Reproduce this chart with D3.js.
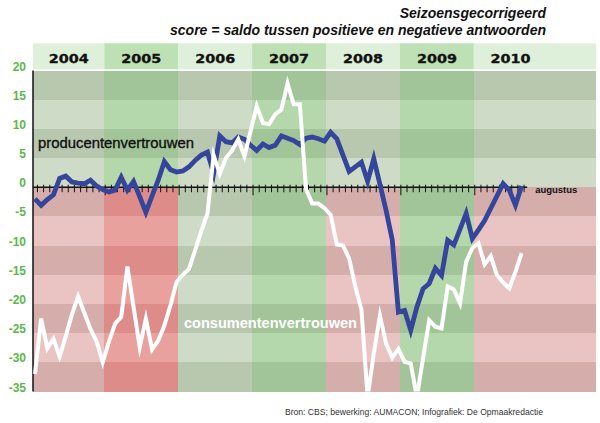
<!DOCTYPE html>
<html><head><meta charset="utf-8">
<script src="https://cdn.jsdelivr.net/npm/d3@7"></script>
<style>body{margin:0;background:#fff}svg{display:block}</style>
</head><body>
<script>
// ---------- data ----------
const years = ["2004","2005","2006","2007","2008","2009","2010"];
const negativeTone = ["red","red","green","green","red","green","red"];
const yTicks = [20,15,10,5,0,-5,-10,-15,-20,-25,-30,-35];
// monthly, Jan 2004 .. Aug 2010
const producenten = [
  -2.0,-3.1,-2.1,-1.3, 1.5, 1.9, 0.9, 0.7, 0.6, 1.2, 0.2,-0.4,
  -0.8,-0.5, 1.7,-0.5, 1.0,-1.6,-4.3,-1.5, 1.2, 4.4, 3.0, 2.6,
   2.8, 3.5, 4.6, 5.5, 6.0, 2.4, 8.8, 7.8, 7.6, 8.6, 8.2, 7.2,
   6.3, 7.4, 6.8, 7.2, 8.8, 8.4, 8.0, 7.3, 8.4, 8.6, 8.3, 7.9,
   9.4, 8.3, 5.5, 2.7, 3.5, 4.3, 1.0, 4.9, 0.5,-4.0,-9.0,-21.4,
 -21.1,-24.5,-20.5,-17.4,-16.5,-13.9,-15.1,-9.1,-9.9,-7.2,-4.5,-8.8,
  -7.3,-5.7,-3.6,-1.5, 0.6,-0.5,-3.1, 0.2
];
const consumenten = [
 -32.0,-22.5,-27.6,-26.0,-29.0,-25.5,-21.8,-18.7,-21.5,-24.3,-26.4,-30.0,
 -26.5,-23.4,-22.2,-13.6,-20.5,-27.4,-22.5,-27.8,-26.3,-23.7,-20.2,-16.2,
 -15.0,-14.0,-10.8,-7.5,-4.5, 5.5, 2.3, 5.0, 6.3, 8.2, 5.3, 9.6,
  13.9, 11.0, 10.8, 12.5, 13.3, 17.8, 14.2, 14.2,-0.3,-2.8,-2.8,-3.6,
  -4.7,-9.8,-10.0,-12.2,-17.0,-21.0,-36.0,-28.5,-22.0,-26.8,-29.2,-27.7,
 -29.9,-30.2,-36.0,-29.3,-22.8,-23.9,-24.2,-17.0,-17.5,-19.9,-12.8,-10.4,
  -9.6,-13.2,-11.8,-15.1,-16.3,-17.3,-14.5,-11.3
];
const labelProducenten = "producentenvertrouwen";
const labelConsumenten = "consumentenvertrouwen";
const lastMonthLabel = "augustus";
const title1 = "Seizoensgecorrigeerd";
const title2 = "score = saldo tussen positieve en negatieve antwoorden";
const source = "Bron: CBS; bewerking: AUMACON; Infografiek: De Opmaakredactie";

// ---------- layout ----------
const W = 600, H = 423;
const pLeft = 33, pRight = 596, pTop = 70.5, pBottom = 391.5;
const headTop = 43.3, headBottom = 69.3;
const FONT = "'Liberation Sans', Arial, Helvetica, sans-serif";

const colors = {
  head: ["#def0d9", "#bde0b5"],
  green: [{dark:"#b8c8af", light:"#cedcc7"}, {dark:"#a1c598", light:"#b4d7ab"}],
  red:   [{dark:"#d5adab", light:"#e9c4c3"}, {dark:"#dd8c8a", light:"#e9a19e"}]
};

const svg = d3.select("body").append("svg").attr("width", W).attr("height", H);

const x = d3.scaleLinear().domain([0, 79]).range([35, 521.6]);
const y = d3.scaleLinear().domain([-35, 20]).range([pBottom, pTop]);

const yearSpan = k => [
  k === 0 ? pLeft : x(12 * k - 0.75),
  k === years.length - 1 ? pRight : x(12 * (k + 1) - 0.75)
];

// header band
svg.append("g").selectAll("rect").data(years).join("rect")
  .attr("x", (d, k) => yearSpan(k)[0])
  .attr("width", (d, k) => yearSpan(k)[1] - yearSpan(k)[0])
  .attr("y", headTop).attr("height", headBottom - headTop)
  .attr("fill", (d, k) => colors.head[k % 2]);

svg.append("g").selectAll("text").data(years).join("text")
  .attr("x", (d, k) => (yearSpan(k)[0] + (k === years.length - 1 ? yearSpan(k)[0] + 73.5 : yearSpan(k)[1])) / 2)
  .attr("y", 62.5)
  .attr("text-anchor", "middle")
  .attr("font-family", "'DejaVu Sans', sans-serif")
  .attr("font-weight", "bold").attr("font-size", 11.5)
  .attr("textLength", 40).attr("lengthAdjust", "spacingAndGlyphs")
  .attr("stroke", "#111").attr("stroke-width", 0.3)
  .attr("fill", "#111").text(d => d);

// stripes
const bands = d3.range(-35, 20, 5);
const cells = [];
years.forEach((yr, k) => bands.forEach(lo => {
  const tone = lo >= 0 ? "green" : negativeTone[k];
  const shade = (Math.abs(lo / 5) % 2 === 1) ? "dark" : "light";
  cells.push({k, lo, fill: colors[tone][k % 2][shade]});
}));
svg.append("g").selectAll("rect").data(cells).join("rect")
  .attr("x", d => yearSpan(d.k)[0])
  .attr("width", d => yearSpan(d.k)[1] - yearSpan(d.k)[0])
  .attr("y", d => y(d.lo + 5))
  .attr("height", d => y(d.lo) - y(d.lo + 5))
  .attr("fill", d => d.fill)
  .attr("shape-rendering", "crispEdges");

// y labels
svg.append("g").selectAll("text").data(yTicks).join("text")
  .attr("x", 26).attr("y", d => y(d))
  .attr("text-anchor", "end")
  .attr("font-family", FONT).attr("font-weight", "bold").attr("font-size", 12)
  .attr("fill", "#5cb84b").text(d => d);

// left axis
svg.append("line").attr("x1", pLeft).attr("x2", pLeft).attr("y1", pTop).attr("y2", pBottom)
  .attr("stroke", "#111").attr("stroke-width", 1.5);

// zero line with monthly ticks
const y0 = y(0);
svg.append("line").attr("x1", pLeft).attr("x2", x(79.9)).attr("y1", y0).attr("y2", y0)
  .attr("stroke", "#111").attr("stroke-width", 1.3);
const months = d3.range(1, 81);
svg.append("g").selectAll("line").data(months).join("line")
  .attr("x1", m => x(m - 0.6)).attr("x2", m => x(m - 0.6))
  .attr("y1", y0 - 2.5).attr("y2", m => y0 + (m % 12 === 0 ? 8 : 5))
  .attr("stroke", "#111").attr("stroke-width", 1);

svg.append("text").attr("x", x(79.9) + 8).attr("y", y0 + 6)
  .attr("font-family", FONT).attr("font-weight", "bold").attr("font-size", 9.5)
  .attr("fill", "#111").text(lastMonthLabel);

// lines
svg.append("clipPath").attr("id", "plotclip").append("rect")
  .attr("x", pLeft).attr("y", pTop).attr("width", pRight - pLeft).attr("height", pBottom - pTop);
const line = d3.line().x((d, i) => x(i)).y(d => y(d));
const lines = svg.append("g").attr("clip-path", "url(#plotclip)");
lines.append("path").datum(producenten).attr("d", line)
  .attr("fill", "none").attr("stroke", "#34459b").attr("stroke-width", 4.8)
  .attr("stroke-linejoin", "miter").attr("stroke-miterlimit", 6);
lines.append("path").datum(consumenten).attr("d", line)
  .attr("fill", "none").attr("stroke", "#ffffff").attr("stroke-width", 4)
  .attr("stroke-linejoin", "miter").attr("stroke-miterlimit", 6);

// series labels
svg.append("text").attr("x", 38).attr("y", 148)
  .attr("font-family", FONT).attr("font-size", 14).attr("fill", "#111")
  .attr("stroke", "#111").attr("stroke-width", 0.35)
  .attr("textLength", 156).attr("lengthAdjust", "spacingAndGlyphs")
  .text(labelProducenten);
svg.append("text").attr("x", 184).attr("y", 328)
  .attr("font-family", FONT).attr("font-weight", "bold").attr("font-size", 14).attr("fill", "#fff")
  .attr("textLength", 173).attr("lengthAdjust", "spacingAndGlyphs")
  .text(labelConsumenten);

// titles
svg.append("text").attr("x", 546).attr("y", 18).attr("text-anchor", "end")
  .attr("font-family", FONT).attr("font-weight", "bold").attr("font-style", "italic")
  .attr("font-size", 14).attr("fill", "#111").text(title1);
svg.append("text").attr("x", 546).attr("y", 35).attr("text-anchor", "end")
  .attr("font-family", FONT).attr("font-weight", "bold").attr("font-style", "italic")
  .attr("font-size", 14).attr("fill", "#111")
  .attr("textLength", 376).attr("lengthAdjust", "spacingAndGlyphs")
  .text(title2);

// source
svg.append("text").attr("x", 285).attr("y", 415)
  .attr("font-family", FONT).attr("font-size", 9.5).attr("fill", "#333")
  .attr("textLength", 258).attr("lengthAdjust", "spacingAndGlyphs")
  .text(source);
</script>
</body></html>
